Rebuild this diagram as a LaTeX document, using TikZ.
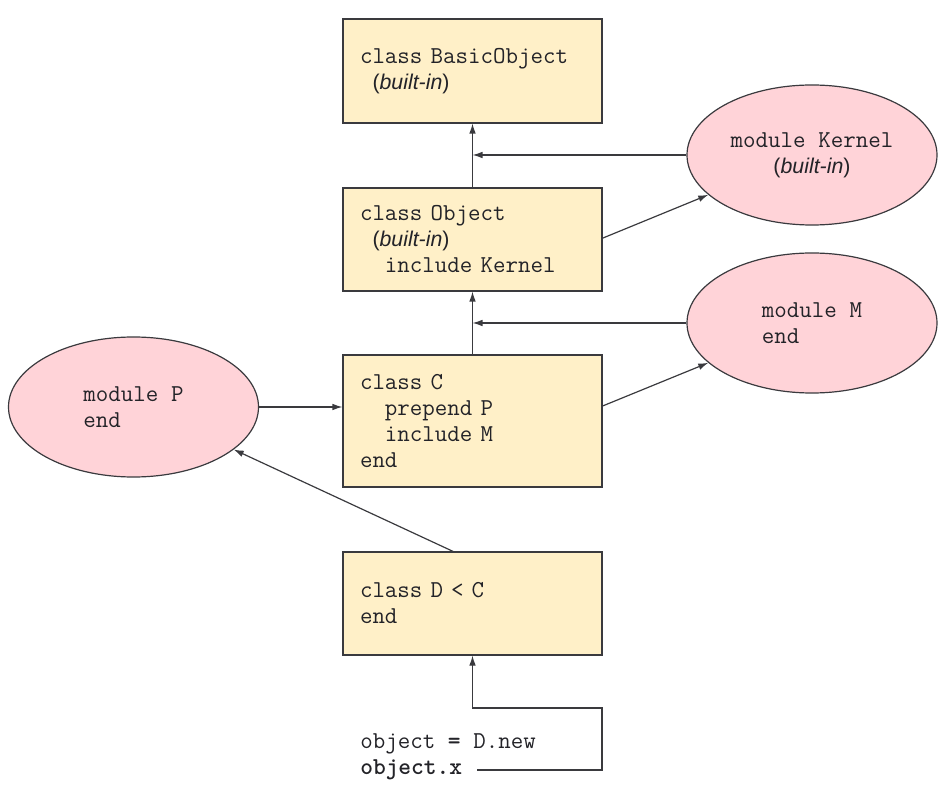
\documentclass[tikz,border=0pt]{standalone}
\usepackage{fontspec}
\newfontfamily\sansf{Liberation Sans}
\usetikzlibrary{shapes.geometric,arrows.meta}
\definecolor{boxfill}{RGB}{255,240,200}
\definecolor{ellfill}{RGB}{255,211,216}
\definecolor{ln}{RGB}{58,58,62}
\definecolor{txt}{RGB}{35,35,40}
\newcommand\builtin{{\fontsize{16}{19.5}\sansf(\textit{built-in})}}
\newcommand\codefont{\fontsize{18.2}{19.5}\selectfont\ttfamily
  \spaceskip=0.525em\relax\xspaceskip=0.525em\relax}
\begin{document}
\begin{tikzpicture}[x=0.75pt,y=-0.75pt,
 every node/.style={font=\codefont, text=txt},
 cbox/.style={draw=ln, line width=0.9pt, fill=boxfill, rectangle, minimum width=194.25pt,
   text width=168.75pt, inner xsep=12.75pt, align=left},
 modell/.style={draw=ln, line width=0.9pt, fill=ellfill, ellipse, minimum width=187.5pt,
   minimum height=105pt, inner sep=0pt},
 arr/.style={draw=ln, line width=0.9pt, -{Latex[length=7.5pt,width=5pt]}}]
\useasboundingbox (0,0) rectangle (950,798);

\node[cbox, minimum height=78pt] (BO) at (472.5,71)
  {class BasicObject\\\hphantom{x}\builtin};
\node[cbox, minimum height=77.25pt] (OB) at (472.5,239.5)
  {class Object\\\hphantom{x}\builtin\\\hphantom{xx}include Kernel};
\node[cbox, minimum height=99pt] (C) at (472.5,421)
  {class C\\\hphantom{xx}prepend P\\\hphantom{xx}include M\\end};
\node[cbox, minimum height=77.25pt] (D) at (472.5,603.5)
  {class D < C\\end};

\node[modell, align=center] (K) at (812,155) {module Kernel\\\builtin};
\node[modell, align=left] (M) at (812,323) {module M\\end};
\node[modell, align=left] (P) at (133.5,407) {module P\\end};

\node[anchor=west, inner sep=0pt] (code1) at (360,744) {object {\bfseries=} D.new};
\node[anchor=west, inner sep=0pt] (code2) at (360,770) {\bfseries object.x};
\coordinate (bend) at (602,708);

\draw[arr] (OB.north) -- (BO.south);
\draw[arr] (K.west) -- (K.west -| BO.south);
\draw[arr] ([yshift=1pt]OB.east) -- (K.201);
\draw[arr] (C.north) -- (OB.south);
\draw[arr] (M.west) -- (M.west -| OB.south);
\draw[arr] ([yshift=11.25pt]C.east) -- (M.201);
\draw[arr] (P.east) -- (P.east -| C.west);
\draw[arr] ([xshift=-14.6pt]D.north) -- (P.-23);
\draw[arr] ([xshift=11.25pt]code2.east) -| (bend) -| (D.south);
\end{tikzpicture}
\end{document}
